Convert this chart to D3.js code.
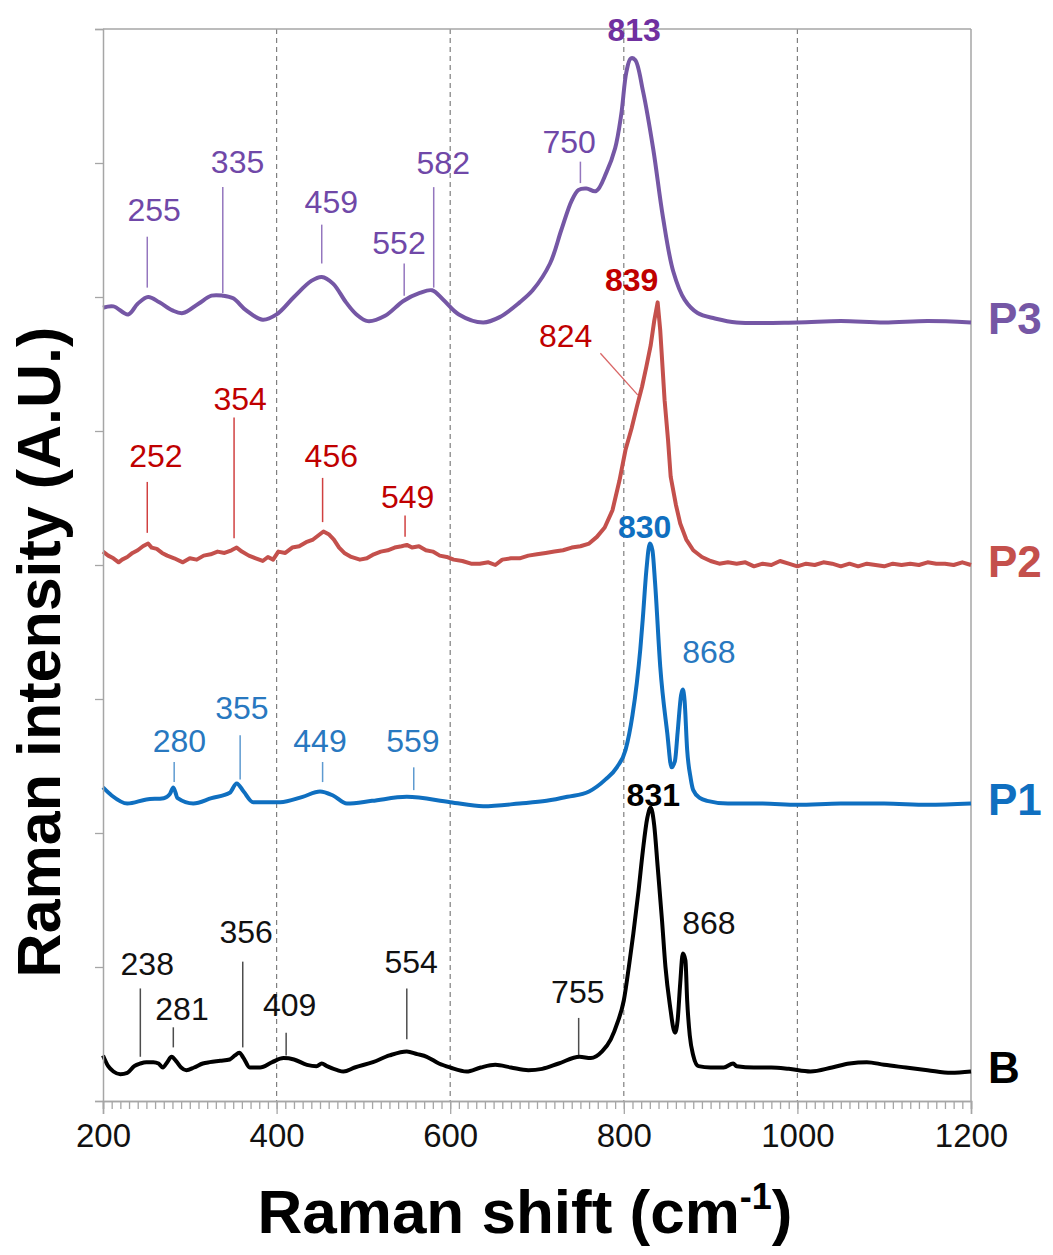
<!DOCTYPE html>
<html>
<head>
<meta charset="utf-8">
<script src="https://cdn.jsdelivr.net/npm/d3@7"></script>
<style>
  body { margin: 0; background: #fff; }
  svg { font-family: Arial, "Liberation Sans", sans-serif; }
</style>
</head>
<body>
<svg id="canvas" width="1053" height="1255"></svg>
<script>
// spectra: [Raman shift, stacked intensity]
let p3Data = [[200,5.92],[212,5.93],[229,5.87],[240,5.95],[252,6.00],[265,5.96],[280,5.90],[292,5.88],[310,5.95],[325,6.01],[338,6.01],[350,5.99],[365,5.90],[384,5.83],[400,5.87],[420,6.00],[440,6.12],[452,6.15],[465,6.10],[480,5.96],[492,5.87],[505,5.82],[525,5.86],[546,5.97],[565,6.03],[579,6.05],[592,5.98],[610,5.87],[638,5.81],[657,5.85],[680,5.96],[695,6.05],[715,6.25],[728,6.50],[740,6.72],[748,6.80],[757,6.81],[768,6.79],[780,6.93],[790,7.11],[797,7.36],[803,7.68],[808,7.78],[813,7.77],[822,7.54],[834,7.10],[845,6.60],[857,6.19],[870,5.98],[885,5.88],[905,5.84],[930,5.81],[1000,5.81],[1050,5.82],[1100,5.81],[1150,5.82],[1200,5.81]]

let p2Data = [[200,4.10],[206,4.07],[212,4.05],[218,4.02],[222,4.04],[228,4.06],[234,4.09],[240,4.11],[246,4.14],[252,4.16],[256,4.13],[262,4.12],[268,4.09],[274,4.07],[282,4.05],[292,4.02],[300,4.05],[308,4.04],[316,4.07],[324,4.08],[332,4.10],[340,4.09],[348,4.11],[354,4.13],[360,4.10],[368,4.07],[376,4.05],[384,4.03],[390,4.06],[396,4.04],[402,4.10],[410,4.09],[418,4.13],[426,4.14],[434,4.17],[442,4.19],[448,4.22],[454,4.25],[460,4.23],[466,4.19],[472,4.13],[478,4.09],[486,4.06],[496,4.04],[504,4.05],[512,4.08],[520,4.10],[528,4.11],[536,4.13],[544,4.14],[550,4.15],[556,4.13],[564,4.14],[572,4.11],[580,4.10],[588,4.07],[596,4.06],[604,4.04],[614,4.03],[624,4.01],[634,4.01],[644,4.02],[652,4.00],[660,4.04],[670,4.05],[680,4.05],[690,4.07],[700,4.08],[710,4.09],[720,4.10],[730,4.11],[740,4.13],[750,4.14],[760,4.16],[769,4.21],[778,4.28],[787,4.41],[795,4.63],[802,4.86],[809,5.02],[815,5.18],[821,5.33],[826,5.48],[831,5.64],[835,5.82],[839,5.96],[842,5.75],[847,5.23],[851,4.93],[854,4.66],[860,4.45],[865,4.31],[872,4.19],[880,4.11],[890,4.06],[900,4.03],[910,4.01],[920,4.02],[930,4.01],[940,4.02],[950,3.99],[960,4.01],[970,4.00],[980,4.03],[990,4.01],[1000,3.99],[1010,4.01],[1020,4.00],[1030,4.02],[1040,4.01],[1050,3.99],[1060,4.01],[1070,3.99],[1080,4.01],[1090,4.00],[1100,3.99],[1110,4.01],[1120,4.00],[1130,4.01],[1140,4.00],[1150,4.02],[1160,4.01],[1170,4.01],[1180,4.00],[1190,4.02],[1200,4.00]]

let p1Data = [[200,2.34],[210,2.28],[228,2.22],[250,2.25],[270,2.26],[277,2.29],[281,2.34],[286,2.26],[304,2.22],[325,2.26],[346,2.30],[354,2.37],[362,2.31],[373,2.23],[404,2.23],[430,2.27],[450,2.31],[465,2.28],[481,2.22],[510,2.24],[550,2.27],[600,2.23],[638,2.20],[680,2.22],[711,2.24],[735,2.27],[760,2.31],[779,2.40],[792,2.49],[802,2.62],[810,2.88],[815,3.12],[819,3.37],[822,3.61],[826,3.96],[830,4.16],[833,4.11],[836,3.87],[842,3.24],[850,2.75],[855,2.49],[859,2.54],[862,2.75],[866,3.03],[868,3.07],[870,2.99],[873,2.62],[877,2.41],[880,2.32],[888,2.26],[896,2.24],[920,2.22],[960,2.22],[1000,2.21],[1050,2.22],[1100,2.22],[1150,2.21],[1200,2.22]]

let bData = [[200,0.34],[206,0.26],[212,0.22],[220,0.20],[228,0.21],[236,0.26],[243,0.28],[250,0.29],[258,0.29],[264,0.28],[269,0.25],[274,0.29],[279,0.33],[284,0.30],[290,0.25],[296,0.23],[305,0.25],[315,0.28],[323,0.29],[335,0.30],[346,0.31],[352,0.34],[357,0.36],[362,0.32],[369,0.25],[381,0.25],[395,0.29],[408,0.32],[420,0.31],[435,0.27],[446,0.26],[452,0.28],[458,0.26],[470,0.23],[477,0.22],[490,0.25],[511,0.29],[530,0.34],[550,0.37],[562,0.35],[573,0.33],[587,0.28],[600,0.25],[619,0.22],[635,0.25],[652,0.27],[670,0.25],[690,0.23],[706,0.24],[725,0.28],[749,0.33],[762,0.32],[775,0.37],[785,0.46],[793,0.59],[800,0.75],[806,1.01],[811,1.25],[817,1.57],[822,1.87],[827,2.11],[831,2.19],[835,2.06],[839,1.75],[844,1.35],[848,1.00],[853,0.72],[859,0.51],[862,0.60],[865,0.88],[868,1.10],[871,1.05],[873,0.75],[876,0.49],[880,0.34],[886,0.26],[900,0.25],[915,0.25],[926,0.28],[930,0.26],[950,0.25],[970,0.25],[990,0.24],[1015,0.22],[1040,0.25],[1060,0.28],[1080,0.29],[1100,0.27],[1125,0.25],[1150,0.23],[1177,0.21],[1200,0.22]]

// peak labels: [text, label shift, label intensity, bold, leader shift, leader top, leader bottom]
let p3Peaks = [['255',259,6.65,0,251,6.45,6.07],['335',355,7.01,0,338,6.82,6.03],['459',463,6.71,0,452,6.54,6.25],['552',541,6.40,0,547,6.25,6.01],['582',592,7.00,0,581,6.82,6.07],['750',737,7.16,0,750,7.01,6.85],['813',812,7.99,1]]
let p2Peaks = [['252',261,4.81,0,251,4.62,4.24],['354',358,5.24,0,351,5.10,4.20],['456',463,4.81,0,453,4.65,4.32],['549',551,4.51,0,548,4.37,4.21],['824',733,5.71,0],['839',809,6.13,1]]
let p1Peaks = [['280',288,2.69,0,282,2.53,2.38],['355',360,2.93,0,358,2.73,2.40],['449',450,2.69,0,453,2.53,2.38],['559',557,2.69,0,558,2.49,2.32],['830',824,4.28,1],['868',898,3.35,0]]
let bPeaks = [['238',251,1.02,0,243,0.84,0.33],['281',291,0.69,0,281,0.55,0.40],['356',365,1.26,0,361,1.04,0.40],['409',415,0.72,0,411,0.51,0.34],['554',555,1.04,0,550,0.84,0.46],['755',747,0.81,0,748,0.62,0.34],['868',898,1.33,0],['831',834,2.28,1]]
// slanted leader for 824 on P2: [shift1, int1, shift2, int2]
let p2Slant = [773, 5.58, 816, 5.27]

let seriesNames = ['P3', 'P2', 'P1', 'B']
let xTicks = [200, 400, 600, 800, 1000, 1200]
let gridTicks = [400, 600, 800, 1000]
let yTicks = [0, 1, 2, 3, 4, 5, 6, 7, 8]

let canvas = d3.select('#canvas')

let xScale = d3.scaleLinear().domain([200, 1200]).range([103, 971])
let yScale = d3.scaleLinear().domain([0, 8]).range([1101, 29])

let series = [
  { name: 'P3', data: p3Data, peaks: p3Peaks, line: '#7557a5', text: '#7048a8', bold: '#7030a0', curve: d3.curveCatmullRom },
  { name: 'P2', data: p2Data, peaks: p2Peaks, line: '#c4504c', text: '#c00000', bold: '#c00000', curve: d3.curveLinear },
  { name: 'P1', data: p1Data, peaks: p1Peaks, line: '#0f6fc0', text: '#2878c0', bold: '#0f6fc0', curve: d3.curveMonotoneX },
  { name: 'B', data: bData, peaks: bPeaks, line: '#000000', text: '#111111', bold: '#000000', curve: d3.curveMonotoneX }
]

// dashed grid
canvas.selectAll('.grid')
  .data(gridTicks)
  .enter()
  .append('line')
  .attr('x1', (d) => xScale(d))
  .attr('x2', (d) => xScale(d))
  .attr('y1', yScale(8))
  .attr('y2', yScale(0))
  .attr('stroke', '#7f7f7f')
  .attr('stroke-width', 1.2)
  .attr('stroke-dasharray', '5,4')

// box
canvas.append('line')
  .attr('x1', xScale(200)).attr('x2', xScale(1200))
  .attr('y1', yScale(8)).attr('y2', yScale(8))
  .attr('stroke', '#a6a6a6').attr('stroke-width', 1.5)
canvas.append('line')
  .attr('x1', xScale(1200)).attr('x2', xScale(1200))
  .attr('y1', yScale(8)).attr('y2', yScale(0))
  .attr('stroke', '#a6a6a6').attr('stroke-width', 1.5)

// spectra
series.forEach((s) => {
  let line = d3.line()
    .x((d) => xScale(d[0]))
    .y((d) => yScale(d[1]))
    .curve(s.curve)

  canvas.append('path')
    .datum(s.data)
    .attr('d', line)
    .attr('fill', 'none')
    .attr('stroke', s.line)
    .attr('stroke-width', 4)
    .attr('stroke-linejoin', 'round')
})

// leaders and peak labels
series.forEach((s) => {
  let withLeader = s.peaks.filter((p) => p.length > 4)
  canvas.selectAll('.lead-' + s.name)
    .data(withLeader)
    .enter()
    .append('line')
    .attr('x1', (p) => xScale(p[4]))
    .attr('x2', (p) => xScale(p[4]))
    .attr('y1', (p) => yScale(p[5]))
    .attr('y2', (p) => yScale(p[6]))
    .attr('stroke', s.text)
    .attr('stroke-opacity', 0.75)
    .attr('stroke-width', 1.5)

  canvas.selectAll('.lab-' + s.name)
    .data(s.peaks)
    .enter()
    .append('text')
    .attr('x', (p) => xScale(p[1]))
    .attr('y', (p) => yScale(p[2]))
    .attr('text-anchor', 'middle')
    .attr('dominant-baseline', 'central')
    .attr('font-size', 32)
    .attr('font-weight', (p) => p[3] ? 'bold' : 'normal')
    .attr('fill', (p) => p[3] ? s.bold : s.text)
    .text((p) => p[0])
})

canvas.append('line')
  .attr('x1', xScale(p2Slant[0])).attr('y1', yScale(p2Slant[1]))
  .attr('x2', xScale(p2Slant[2])).attr('y2', yScale(p2Slant[3]))
  .attr('stroke', '#c00000').attr('stroke-opacity', 0.6).attr('stroke-width', 1.3)

// series names at the right
canvas.selectAll('.name')
  .data(series)
  .enter()
  .append('text')
  .attr('x', 988)
  .attr('y', (s) => yScale(s.data[s.data.length - 1][1]) - 4)
  .attr('dominant-baseline', 'central')
  .attr('font-size', 44)
  .attr('font-weight', 'bold')
  .attr('fill', (s) => s.name === 'B' ? '#000' : s.line)
  .text((s) => s.name)

// axes
let yAxis = d3.axisLeft(yScale).tickValues(yTicks).tickSize(8).tickFormat('')
let yG = canvas.append('g').attr('transform', 'translate(' + xScale(200) + ',0)').call(yAxis)

let minor = d3.range(200, 1201, 10)
let xMinor = d3.axisBottom(xScale).tickValues(minor).tickSize(8).tickFormat('')
let xMajor = d3.axisBottom(xScale).tickValues(xTicks).tickSize(13).tickPadding(10).tickFormat(d3.format('d'))
let xG1 = canvas.append('g').attr('transform', 'translate(0,' + yScale(0) + ')').call(xMinor)
let xG2 = canvas.append('g').attr('transform', 'translate(0,' + yScale(0) + ')').call(xMajor)

;[yG, xG1, xG2].forEach((g) => {
  g.selectAll('path').attr('stroke', '#a6a6a6').attr('stroke-width', 1.5)
  g.selectAll('line').attr('stroke', '#a6a6a6').attr('stroke-width', 1.3)
})
xG2.selectAll('text')
  .attr('font-size', 33)
  .attr('fill', '#111')
  .attr('font-family', 'Arial, "Liberation Sans", sans-serif')

// titles
let xTitle = canvas.append('text')
  .attr('x', 525)
  .attr('y', 1233)
  .attr('text-anchor', 'middle')
  .attr('font-size', 62)
  .attr('font-weight', 'bold')
  .attr('fill', '#000')
xTitle.append('tspan').text('Raman shift (cm')
xTitle.append('tspan').attr('font-size', 36).attr('dy', -24).text('-1')
xTitle.append('tspan').attr('dy', 24).text(')')

canvas.append('text')
  .attr('transform', 'translate(60,652) rotate(-90)')
  .attr('text-anchor', 'middle')
  .attr('font-size', 61)
  .attr('font-weight', 'bold')
  .attr('fill', '#000')
  .text('Raman intensity (A.U.)')
</script>
</body>
</html>
